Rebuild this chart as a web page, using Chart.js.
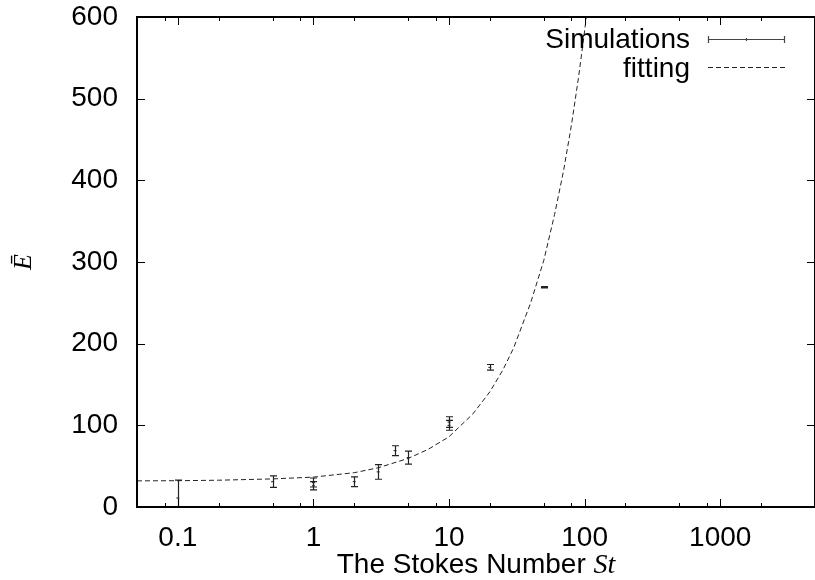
<!DOCTYPE html>
<html>
<head>
<meta charset="utf-8">
<script src="https://cdn.jsdelivr.net/npm/chart.js@4"></script>
<style>
html,body{margin:0;padding:0;background:#fff;overflow:hidden;}
#wrap{width:820px;height:580px;}
</style>
</head>
<body>
<div id="wrap"><canvas id="chart" width="820" height="580"></canvas></div>
<script>
// ---- data ----
const simSt  = [0.1, 0.5, 1, 1, 2, 3, 4, 5, 10, 10, 20, 50];
const simE   = [11, 31, 30, 26, 31, 43, 69, 60.5, 104, 100, 171, 269];
const simErr = [22, 7, 5.5, 5, 6, 9, 6, 8, 6.5, 6, 3.5, 0.8];

const fitSt = [0.05, 0.1, 0.2, 0.5, 1, 2, 3, 5, 7, 10, 15, 20, 25, 30, 40, 50, 60, 70, 80, 90, 100, 104];
const fitE  = [32, 32.2, 32.8, 34.4, 36.6, 42, 48, 59.5, 70.5, 86, 114, 141, 168, 195, 250, 302, 358, 412, 468, 525, 583, 606];

const xMajor = [0.1, 1, 10, 100, 1000];
const xMinor = [0.08, 0.2, 0.5, 0.8, 2, 5, 8, 20, 50, 80, 200, 500, 800, 2000];
const yTicks = [0, 100, 200, 300, 400, 500, 600];

const sans = '"Liberation Sans", Arial, Helvetica, sans-serif';
const serif = '"Liberation Serif", "Times New Roman", serif';
const ink = '#000';

// frame, inward ticks, error bars, legend and x title the gnuplot way
const gnuplotDecor = {
  id: 'gnuplotDecor',
  afterDatasetsDraw(chart) {
    const { ctx, chartArea: a, scales: { x, y } } = chart;
    ctx.save();
    ctx.beginPath();
    ctx.rect(a.left, a.top, a.right - a.left, a.bottom - a.top);
    ctx.clip();
    ctx.strokeStyle = '#222';
    ctx.lineWidth = 1.2;
    simSt.forEach((st, i) => {
      const px = Math.round(x.getPixelForValue(st)) + 0.5;
      const top = y.getPixelForValue(simE[i] + simErr[i]);
      const bot = y.getPixelForValue(simE[i] - simErr[i]);
      ctx.beginPath();
      ctx.moveTo(px, top); ctx.lineTo(px, bot);
      ctx.moveTo(px - 3.5, top); ctx.lineTo(px + 3.5, top);
      ctx.moveTo(px - 3.5, bot); ctx.lineTo(px + 3.5, bot);
      ctx.stroke();
    });
    ctx.restore();
  },
  afterDraw(chart) {
    const { ctx, chartArea: a, scales: { x, y } } = chart;
    ctx.save();
    // ticks
    ctx.strokeStyle = ink;
    ctx.lineWidth = 1;
    ctx.beginPath();
    yTicks.forEach(v => {
      const py = Math.round(y.getPixelForValue(v)) + 0.5;
      ctx.moveTo(a.left, py); ctx.lineTo(a.left + 8, py);
      ctx.moveTo(a.right, py); ctx.lineTo(a.right - 8, py);
    });
    xMajor.forEach(v => {
      const px = Math.round(x.getPixelForValue(v)) + 0.5;
      ctx.moveTo(px, a.bottom); ctx.lineTo(px, a.bottom - 8);
      ctx.moveTo(px, a.top); ctx.lineTo(px, a.top + 8);
    });
    xMinor.forEach(v => {
      const px = Math.round(x.getPixelForValue(v)) + 0.5;
      ctx.moveTo(px, a.bottom); ctx.lineTo(px, a.bottom - 4);
      ctx.moveTo(px, a.top); ctx.lineTo(px, a.top + 4);
    });
    ctx.stroke();
    // frame
    ctx.lineWidth = 2;
    ctx.strokeRect(a.left, a.top, a.right - a.left, a.bottom - a.top);

    // legend
    ctx.fillStyle = ink;
    ctx.font = '28px ' + sans;
    ctx.textAlign = 'right';
    ctx.textBaseline = 'alphabetic';
    ctx.fillText('Simulations', 690, 48);
    ctx.fillText('fitting', 690, 77);
    ctx.strokeStyle = '#444';
    ctx.lineWidth = 1.2;
    ctx.beginPath();
    ctx.moveTo(708, 39.5); ctx.lineTo(785, 39.5);
    ctx.moveTo(708.5, 36); ctx.lineTo(708.5, 43);
    ctx.moveTo(784.5, 36); ctx.lineTo(784.5, 43);
    ctx.moveTo(746.5, 38); ctx.lineTo(746.5, 41);
    ctx.stroke();
    ctx.setLineDash([5, 3]);
    ctx.strokeStyle = '#222';
    ctx.lineWidth = 1;
    ctx.beginPath();
    ctx.moveTo(708, 67.5); ctx.lineTo(785, 67.5);
    ctx.stroke();
    ctx.setLineDash([]);

    // x title with italic St
    const t1 = 'The Stokes Number ', t2 = 'St';
    ctx.font = '28px ' + sans;
    const w1 = ctx.measureText(t1).width;
    ctx.font = 'italic 28px ' + serif;
    const w2 = ctx.measureText(t2).width;
    const cx = (a.left + a.right) / 2;
    const sx = cx - (w1 + w2) / 2;
    ctx.textAlign = 'left';
    ctx.font = '28px ' + sans;
    ctx.fillText(t1, sx, 573);
    ctx.font = 'italic 28px ' + serif;
    ctx.fillText(t2, sx + w1, 573);
    ctx.restore();
  }
};

const ctx = document.getElementById('chart').getContext('2d');
new Chart(ctx, {
  data: {
    datasets: [
      {
        type: 'line',
        label: 'fitting',
        data: fitSt.map((s, i) => ({ x: s, y: fitE[i] })),
        borderColor: '#222',
        borderWidth: 1,
        borderDash: [5, 3],
        pointRadius: 0,
        tension: 0,
        fill: false
      },
      {
        type: 'scatter',
        label: 'Simulations',
        data: simSt.map((s, i) => ({ x: s, y: simE[i] })),
        pointStyle: 'line',
        pointRadius: 1.5,
        borderColor: '#222',
        borderWidth: 1
      }
    ]
  },
  options: {
    responsive: false,
    devicePixelRatio: 1,
    animation: false,
    layout: { padding: { top: 17, right: 1, left: 0, bottom: 0 } },
    plugins: { legend: { display: false }, tooltip: { enabled: false } },
    scales: {
      x: {
        type: 'logarithmic',
        position: 'bottom',
        min: 0.05,
        max: 5000,
        afterBuildTicks: (s) => { s.ticks = xMajor.map(v => ({ value: v })); },
        afterFit: (s) => { s.height = 73; s.paddingLeft = 0; s.paddingRight = 0; },
        grid: { display: false, drawTicks: false },
        border: { display: false },
        ticks: {
          autoSkip: false,
          maxRotation: 0,
          padding: 14,
          color: ink,
          font: { family: sans, size: 28 },
          callback: (v) => String(v)
        }
      },
      y: {
        type: 'linear',
        min: 0,
        max: 600,
        afterBuildTicks: (s) => { s.ticks = yTicks.map(v => ({ value: v })); },
        afterFit: (s) => { s.width = 137; s.paddingTop = 0; s.paddingBottom = 0; },
        grid: { display: false, drawTicks: false },
        border: { display: false },
        ticks: {
          padding: 19,
          color: ink,
          font: { family: sans, size: 28 }
        },
        title: {
          display: true,
          text: 'Ē',
          color: ink,
          font: { family: serif, style: 'italic', size: 26 },
          padding: { top: 9, bottom: 0 }
        }
      }
    }
  },
  plugins: [gnuplotDecor]
});
</script>
</body>
</html>
